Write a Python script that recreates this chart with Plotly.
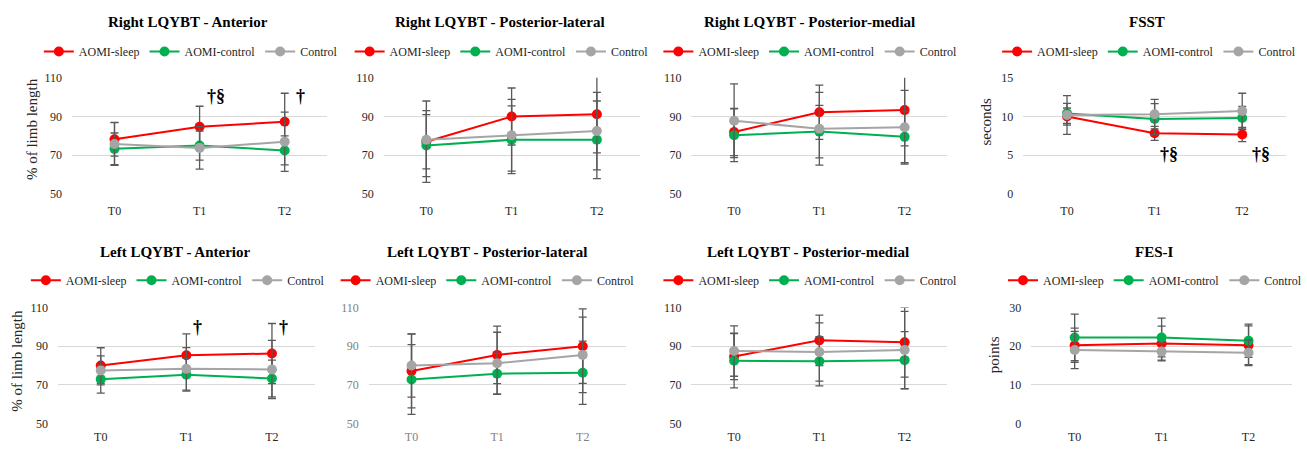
import plotly.graph_objects as go

# ---------------- data ----------------
categories = ["T0", "T1", "T2"]
groups = ["AOMI-sleep", "AOMI-control", "Control"]
titles = [
    "Right LQYBT - Anterior", "Right LQYBT - Posterior-lateral",
    "Right LQYBT - Posterior-medial", "FSST",
    "Left LQYBT - Anterior", "Left LQYBT - Posterior-lateral",
    "Left LQYBT - Posterior-medial", "FES-I",
]
y_titles = ["% of limb length", "", "", "seconds", "% of limb length", "", "", "points"]
y_ticks = [
    [50, 70, 90, 110], [50, 70, 90, 110], [50, 70, 90, 110], [0, 5, 10, 15],
    [50, 70, 90, 110], [50, 70, 90, 110], [50, 70, 90, 110], [0, 10, 20, 30],
]

sleep_mean = [
    [78.3, 84.7, 87.3], [77.0, 90.0, 91.2], [82.0, 92.2, 93.3], [10.0, 7.83, 7.67],
    [80.0, 85.3, 86.2], [77.2, 85.5, 90.0], [84.7, 93.0, 92.0], [20.25, 20.7, 20.25],
]
aomictl_mean = [
    [73.3, 75.0, 72.5], [75.0, 78.0, 78.0], [80.3, 82.2, 79.5], [10.4, 9.67, 9.8],
    [73.0, 75.3, 73.3], [72.8, 75.8, 76.3], [82.5, 82.2, 82.8], [22.25, 22.25, 21.4],
]
control_mean = [
    [75.8, 73.8, 77.0], [78.0, 80.3, 82.5], [87.8, 83.7, 84.5], [10.2, 10.3, 10.7],
    [77.5, 78.3, 78.0], [80.0, 81.2, 85.5], [87.5, 87.0, 88.0], [19.0, 18.6, 18.3],
]
sleep_sd = [
    [8.7, 10.6, 14.7], [21.0, 14.7, 20.0], [12.2, 14.0, 18.5], [1.1, 0.9, 0.92],
    [9.2, 11.0, 15.5], [19.0, 14.8, 19.2], [12.0, 13.0, 18.0], [4.4, 4.5, 5.0],
]
aomictl_sd = [
    [8.2, 7.5, 7.5], [16.0, 17.5, 20.0], [13.6, 13.5, 13.3], [1.3, 2.0, 1.5],
    [7.2, 8.5, 9.5], [18.0, 10.5, 16.3], [14.0, 12.7, 14.7], [6.0, 5.0, 4.3],
]
control_sd = [
    [11.0, 11.0, 15.3], [15.0, 18.5, 20.0], [19.0, 18.8, 19.0], [2.5, 1.9, 2.3],
    [7.5, 11.0, 15.0], [16.3, 16.0, 19.5], [13.0, 15.0, 20.0], [4.8, 2.2, 3.3],
]
# significance markers: (panel index, category position, y value, text)
sig_panel = [0, 0, 3, 3, 4, 4]
sig_x = [1.19, 2.18, 1.16, 2.21, 1.13, 2.14]
sig_y = [100.5, 100.5, 5.1, 5.1, 100.0, 100.0]
sig_text = ["†§", "†", "†§", "†§", "†", "†"]

# ---------------- layout helpers ----------------
W, H = 1307, 453
FONT = "Liberation Serif"
colors = ["#FF0000", "#00B050", "#A5A5A5"]
means = [sleep_mean, aomictl_mean, control_mean]
sds = [sleep_sd, aomictl_sd, control_sd]

dom_x = [(72, 327.5), (384, 640), (692, 948), (1024, 1287),
         (58, 315), (369, 626), (692, 948), (1032, 1293)]
row_y = [(73, 193), (310, 430)]
title_cx = [188, 500, 810, 1148, 175, 487, 809, 1155]
legend_cx = [191, 502, 811, 1150, 178, 488, 811, 1156]
title_cy = [15, 253]
legend_cy = [46, 282]
ytitle_pos = {0: (32, 126), 3: (987, 118), 4: (17, 365), 7: (995, 359)}


def fx(p):
    return p / W


def fy(p):
    return 1 - p / H


fig = go.Figure()
layout = dict(
    width=W, height=H, margin=dict(l=0, r=0, t=0, b=0),
    paper_bgcolor="white", plot_bgcolor="white",
    font=dict(family=FONT, color="#262626", size=12),
)
annotations = []

for i in range(8):
    n = i + 1
    xa = "x" if n == 1 else f"x{n}"
    ya = "y" if n == 1 else f"y{n}"
    lg = "legend" if n == 1 else f"legend{n}"
    r = 0 if i < 4 else 1
    for g in range(3):
        fig.add_trace(go.Scatter(
            x=categories, y=means[g][i], name=groups[g], mode="lines+markers",
            line=dict(color=colors[g], width=2),
            marker=dict(color=colors[g], size=10),
            error_y=dict(type="data", array=sds[g][i], visible=True,
                         color="#595959", thickness=1.3, width=4),
            xaxis=xa, yaxis=ya, legend=lg, showlegend=True,
        ))
    tick_col = "#808080" if i == 5 else "#262626"
    layout["xaxis" if n == 1 else f"xaxis{n}"] = dict(
        domain=[fx(dom_x[i][0]), fx(dom_x[i][1])], anchor=ya,
        type="category", range=[-0.5, 2.5], showgrid=False, zeroline=False,
        showline=False, ticks="", ticklabelstandoff=8 if r == 0 else 4,
        tickfont=dict(family=FONT, size=12, color=tick_col),
    )
    yt = y_ticks[i]
    layout["yaxis" if n == 1 else f"yaxis{n}"] = dict(
        domain=[fy(row_y[r][1]), fy(row_y[r][0])], anchor=xa,
        range=[yt[0], yt[-1]], tickvals=yt, showgrid=True,
        gridcolor="#D9D9D9", gridwidth=1.3, zeroline=False, showline=False,
        ticks="", ticklabelstandoff=9,
        tickfont=dict(family=FONT, size=12, color=tick_col),
    )
    layout[lg] = dict(
        orientation="h", x=fx(legend_cx[i]), y=fy(legend_cy[r]),
        xanchor="center", yanchor="middle", bgcolor="rgba(0,0,0,0)",
        font=dict(family=FONT, size=12, color="#262626"),
        itemclick=False, itemdoubleclick=False,
    )
    annotations.append(dict(
        text=f"<b>{titles[i]}</b>", x=fx(title_cx[i]), y=fy(title_cy[r]),
        xref="paper", yref="paper", xanchor="center", yanchor="middle",
        showarrow=False, font=dict(family=FONT, size=15, color="black"),
    ))
    if y_titles[i]:
        px, py = ytitle_pos[i]
        annotations.append(dict(
            text=y_titles[i], x=fx(px), y=fy(py), xref="paper", yref="paper",
            xanchor="center", yanchor="middle", textangle=-90,
            showarrow=False, font=dict(family=FONT, size=15, color="#262626"),
        ))

for k in range(len(sig_text)):
    n = sig_panel[k] + 1
    annotations.append(dict(
        text=f"<b>{sig_text[k]}</b>", x=sig_x[k], y=sig_y[k],
        xref="x" if n == 1 else f"x{n}", yref="y" if n == 1 else f"y{n}",
        xanchor="center", yanchor="middle", showarrow=False,
        font=dict(family=FONT, size=18, color="black"),
    ))

layout["annotations"] = annotations
fig.update_layout(**layout)
fig.write_html(
    "out.html",
    config={"displayModeBar": False},
    post_script=(
        "document.documentElement.style.margin='0';"
        "document.body.style.margin='0';"
        "document.body.style.overflow='hidden';"
        "document.documentElement.style.overflow='hidden';"
    ),
)
